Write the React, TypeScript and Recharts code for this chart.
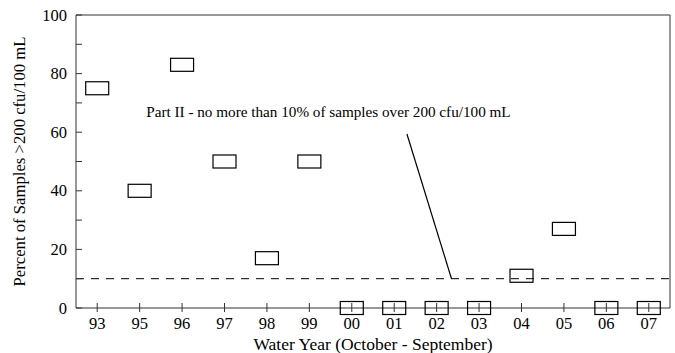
import React from 'react';
import { ComposedChart, Scatter, XAxis, YAxis, ReferenceLine, ReferenceDot } from 'recharts';

const years = ['93', '95', '96', '97', '98', '99', '00', '01', '02', '03', '04', '05', '06', '07'];
const percentOver = [75, 40, 83, 50, 17, 50, 0, 0, 0, 0, 11, 27, 0, 0];
const yTicks = [0, 10, 20, 30, 40, 50, 60, 70, 80, 90, 100];
const standardLimit = 10;
const annotationText = 'Part II - no more than 10% of samples over 200 cfu/100 mL';
const annotationAnchor = { x: 5.45, y: 67 };
const annotationPointer = [{ x: 7.3, y: 59.4 }, { x: 8.35, y: 10 }];

const data = years.map((y, i) => ({ x: i, year: y, value: percentOver[i] }));
const xTicks = years.map((_, i) => i);

const FONT = '"Liberation Serif", "Times New Roman", serif';

const BoxShape = (props: any) => {
  const { cx, cy } = props;
  if (cx == null || cy == null) return null;
  const w = 23;
  const h = 13;
  return <rect x={cx - w / 2} y={cy - h / 2} width={w} height={h} fill="none" stroke="#000" strokeWidth={1.2} />;
};

const XTick = (props: any) => {
  const { x, y, payload } = props;
  return (
    <g>
      <line x1={x} x2={x} y1={y - 5} y2={y + 4} stroke="#333" strokeWidth={1} />
      <text x={x} y={y + 21} textAnchor="middle" fontFamily={FONT} fontSize={16.5} fill="#000">
        {years[payload.value]}
      </text>
    </g>
  );
};

const YTick = (props: any) => {
  const { x, y, payload } = props;
  const v = payload.value;
  return (
    <g>
      <line x1={x} x2={x + 6} y1={y} y2={y} stroke="#333" strokeWidth={1} />
      {v % 20 === 0 && (
        <text x={x - 9} y={y + 5.5} textAnchor="end" fontFamily={FONT} fontSize={16.5} fill="#000">
          {v}
        </text>
      )}
    </g>
  );
};

export default function App() {
  return (
    <div style={{ position: 'absolute', left: 0, top: 0, width: 675, height: 353, background: '#fff' }}>
      <ComposedChart width={675} height={353} data={data} margin={{ top: 15, right: 5, bottom: 0, left: 0 }}>
        <XAxis
          type="number"
          dataKey="x"
          domain={[-0.5, 13.5]}
          ticks={xTicks}
          interval={0}
          tickSize={0}
          tickMargin={0}
          tickLine={false}
          tick={<XTick />}
          height={45}
          stroke="#333"
          label={{ value: 'Water Year (October - September)', position: 'insideBottom', offset: 3, fill: '#000', fontFamily: FONT, fontSize: 17.5 }}
        />
        <YAxis
          type="number"
          domain={[0, 100]}
          ticks={yTicks}
          interval={0}
          tickSize={0}
          tickMargin={0}
          tickLine={false}
          tick={<YTick />}
          width={76}
          stroke="#333"
          label={{ value: 'Percent of Samples >200 cfu/100 mL', angle: -90, position: 'insideLeft', offset: 19, dy: 0, fill: '#000', fontFamily: FONT, fontSize: 16.7, style: { textAnchor: 'middle' } }}
        />
        <ReferenceLine y={100} stroke="#333" strokeWidth={1} />
        <ReferenceLine x={13.5} stroke="#333" strokeWidth={1} />
        <ReferenceLine y={standardLimit} stroke="#000" strokeDasharray="8 7" strokeWidth={1} />
        <ReferenceLine segment={annotationPointer} stroke="#000" strokeWidth={1.2} />
        <ReferenceDot
          x={annotationAnchor.x}
          y={annotationAnchor.y}
          r={0}
          fill="none"
          stroke="none"
          label={{ value: annotationText, position: 'center', fill: '#000', fontFamily: FONT, fontSize: 15.2 }}
        />
        <Scatter dataKey="value" shape={<BoxShape />} isAnimationActive={false} />
      </ComposedChart>
    </div>
  );
}
